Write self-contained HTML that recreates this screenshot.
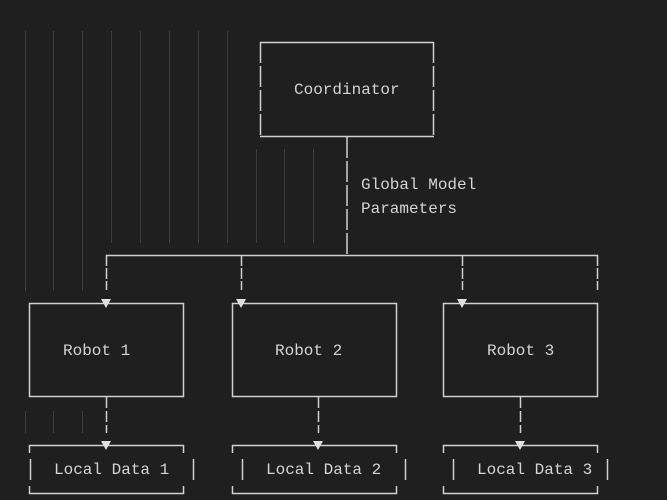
<!DOCTYPE html>
<html><head><meta charset="utf-8"><style>
html,body{margin:0;padding:0;background:#1f1f1f;}
svg{display:block;}
text{font-family:"Liberation Mono",monospace;font-size:16px;fill:#d4d4d4;}
</style></head><body>
<svg width="667" height="500" viewBox="0 0 667 500" xmlns="http://www.w3.org/2000/svg">
<rect width="667" height="500" fill="#1f1f1f"/>
<g stroke="#3c3c3c" stroke-width="1">
<line x1="25.5" y1="31" x2="25.5" y2="291"/>
<line x1="53.5" y1="31" x2="53.5" y2="291"/>
<line x1="82.5" y1="31" x2="82.5" y2="291"/>
<line x1="111.5" y1="31" x2="111.5" y2="243"/>
<line x1="140.5" y1="31" x2="140.5" y2="243"/>
<line x1="169.5" y1="31" x2="169.5" y2="243"/>
<line x1="198.5" y1="31" x2="198.5" y2="243"/>
<line x1="227.5" y1="31" x2="227.5" y2="243"/>
<line x1="256.5" y1="149" x2="256.5" y2="243"/>
<line x1="284.5" y1="149" x2="284.5" y2="243"/>
<line x1="313.5" y1="149" x2="313.5" y2="243"/>
<line x1="25.5" y1="411" x2="25.5" y2="433"/>
<line x1="53.5" y1="411" x2="53.5" y2="433"/>
<line x1="82.5" y1="411" x2="82.5" y2="433"/>
</g>
<g stroke="#d0d0d0" stroke-width="1.5" fill="none">
<line x1="260" y1="42.5" x2="434" y2="42.5"/>
<line x1="260" y1="136.5" x2="434" y2="136.5"/>
<line x1="260.5" y1="42" x2="260.5" y2="137" stroke-dasharray="21 3"/>
<line x1="433.5" y1="42" x2="433.5" y2="137" stroke-dasharray="21 3"/>
<line x1="347" y1="137" x2="347" y2="255" stroke-dasharray="21 3"/>
<line x1="106" y1="255.5" x2="598" y2="255.5"/>
<line x1="106.5" y1="255" x2="106.5" y2="290" stroke-dasharray="11 2"/>
<line x1="241.5" y1="255" x2="241.5" y2="290" stroke-dasharray="11 2"/>
<line x1="462.5" y1="255" x2="462.5" y2="290" stroke-dasharray="11 2"/>
<line x1="597.5" y1="255" x2="597.5" y2="290" stroke-dasharray="11 2"/>
<rect x="29.5" y="303.5" width="154" height="93"/>
<rect x="232.5" y="303.5" width="164" height="93"/>
<rect x="443.5" y="303.5" width="154" height="93"/>
<line x1="106.5" y1="397" x2="106.5" y2="433" stroke-dasharray="11 3"/>
<line x1="318.5" y1="397" x2="318.5" y2="433" stroke-dasharray="11 3"/>
<line x1="520.5" y1="397" x2="520.5" y2="433" stroke-dasharray="11 3"/>
<path d="M29.5 453 V445.5 H183.5 V453 M29.5 486 V493.5 H183.5 V486"/>
<path d="M232.5 453 V445.5 H396.5 V453 M232.5 486 V493.5 H396.5 V486"/>
<path d="M443.5 453 V445.5 H597.5 V453 M443.5 486 V493.5 H597.5 V486"/>
<line x1="30.5" y1="459" x2="30.5" y2="480"/>
<line x1="193.5" y1="459" x2="193.5" y2="480"/>
<line x1="242.5" y1="459" x2="242.5" y2="480"/>
<line x1="405.5" y1="459" x2="405.5" y2="480"/>
<line x1="453.5" y1="459" x2="453.5" y2="480"/>
<line x1="607.5" y1="459" x2="607.5" y2="480"/>
</g>
<g fill="#e0e0e0">
<polygon points="101,299 111,299 106,308"/>
<polygon points="236,299 246,299 241,308"/>
<polygon points="457,299 467,299 462,308"/>
<polygon points="101,441 111,441 106,450"/>
<polygon points="313,441 323,441 318,450"/>
<polygon points="515,441 525,441 520,450"/>
</g>
<text x="294" y="94">Coordinator</text>
<text x="361" y="189">Global Model</text>
<text x="361" y="213">Parameters</text>
<text x="63" y="355">Robot 1</text>
<text x="275" y="355">Robot 2</text>
<text x="487" y="355">Robot 3</text>
<text x="54" y="474">Local Data 1</text>
<text x="266" y="474">Local Data 2</text>
<text x="477" y="474">Local Data 3</text>
</svg>
</body></html>
